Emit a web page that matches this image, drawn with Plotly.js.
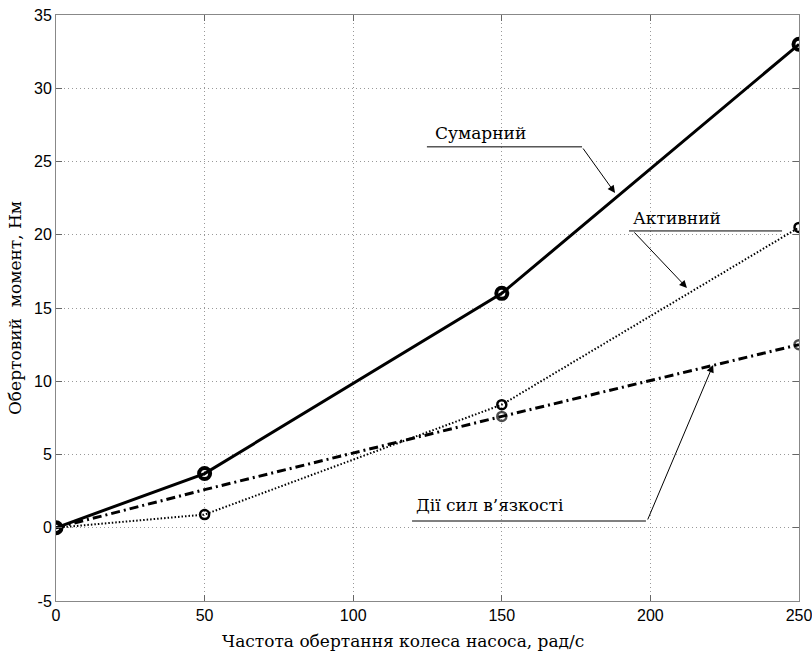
<!DOCTYPE html>
<html>
<head>
<meta charset="utf-8">
<script src="https://cdn.plot.ly/plotly-3.0.1.min.js"></script>
<style>html,body{margin:0;padding:0;background:#fff;}#chart{width:812px;height:653px;}</style>
</head>
<body>
<div id="chart"></div>
<script>
var xVals = [0, 50, 150, 250];
var totalVals = [0, 3.7, 16.0, 33.0];
var activeVals = [0, 0.9, 8.4, 20.5];
var viscousVals = [0, 2.6, 7.6, 12.5];
var viscousMarkerSizes = [9, 0, 9, 9];
var xTicks = [0, 50, 100, 150, 200, 250];
var yTicks = [-5, 0, 5, 10, 15, 20, 25, 30, 35];
var xTitle = 'Частота обертання колеса насоса, рад/с';
var yTitle = 'Обертовий&nbsp;&nbsp;момент, Нм';
var labelTotal = 'Сумарний';
var labelActive = 'Активний';
var labelViscous = 'Дії сил в\u2019язкості';

var serif = 'DejaVu Serif';
var sans = 'Liberation Sans, Arial, sans-serif';

var traces = [
  {x: xVals, y: viscousVals, mode: 'lines+markers',
   line: {color: '#000', width: 3, dash: '9px,4px,2px,4px'},
   marker: {symbol: 'circle-open', size: viscousMarkerSizes, color: '#000', line: {width: 2.5, color: '#000'}}},
  {x: xVals, y: activeVals, mode: 'lines+markers',
   line: {color: '#000', width: 2, dash: '1.5px,2px'},
   marker: {symbol: 'circle-open', size: 9, color: '#000', line: {width: 2.5, color: '#000'}}},
  {x: xVals, y: totalVals, mode: 'lines+markers',
   line: {color: '#000', width: 3},
   marker: {symbol: 'circle-open', size: 11, color: '#000', line: {width: 4, color: '#000'}}}
];

var axisCommon = {
  showline: true, linecolor: '#888', linewidth: 1, mirror: 'ticks',
  ticks: 'inside', ticklen: 6, tickcolor: '#666', tickwidth: 1,
  showgrid: true, gridcolor: '#999', griddash: '1px,3px', gridwidth: 1,
  zeroline: false, tickfont: {family: sans, size: 16, color: '#000'},
  ticklabeloverflow: 'allow'
};

var layout = {
  width: 812, height: 653,
  margin: {l: 56, r: 13, t: 15, b: 52},
  paper_bgcolor: '#fff', plot_bgcolor: '#fff',
  showlegend: false,
  xaxis: Object.assign({}, axisCommon, {
    range: [0, 250], tickmode: 'array', tickvals: xTicks, ticktext: xTicks.map(String)
  }),
  yaxis: Object.assign({}, axisCommon, {
    range: [-5, 35], tickmode: 'array', tickvals: yTicks, ticktext: yTicks.map(String),
    title: {text: yTitle, font: {family: serif, size: 17, color: '#000'}, standoff: 8}
  }),
  shapes: [
    {type: 'line', xref: 'x', yref: 'y', x0: 124.8, x1: 177.0, y0: 26.0, y1: 26.0, line: {color: '#000', width: 1}},
    {type: 'line', xref: 'x', yref: 'y', x0: 192.8, x1: 244.3, y0: 20.26, y1: 20.26, line: {color: '#000', width: 1}},
    {type: 'line', xref: 'x', yref: 'y', x0: 119.8, x1: 198.5, y0: 0.46, y1: 0.46, line: {color: '#000', width: 1}}
  ],
  annotations: [
    {x: 403, y: 653, xref: 'paper', yref: 'paper', xanchor: 'center', yanchor: 'bottom', text: xTitle, showarrow: false, font: {family: serif, size: 17, color: '#000'}},
    {x: 142.7, y: 26.95, xref: 'x', yref: 'y', text: labelTotal, showarrow: false, font: {family: serif, size: 17, color: '#000'}},
    {x: 208.9, y: 21.14, xref: 'x', yref: 'y', text: labelActive, showarrow: false, font: {family: serif, size: 17, color: '#000'}},
    {x: 146.0, y: 1.55, xref: 'x', yref: 'y', text: labelViscous, showarrow: false, font: {family: serif, size: 17, color: '#000'}},
    {x: 188.1, y: 22.85, xref: 'x', yref: 'y', text: '', showarrow: true, ax: -33, ay: -46, arrowhead: 2, arrowsize: 1.5, arrowwidth: 1, arrowcolor: '#000', standoff: 0, startstandoff: 0},
    {x: 212.3, y: 16.37, xref: 'x', yref: 'y', text: '', showarrow: true, ax: -54, ay: -57, arrowhead: 2, arrowsize: 1.5, arrowwidth: 1, arrowcolor: '#000', standoff: 0, startstandoff: 0},
    {x: 221.1, y: 11.11, xref: 'x', yref: 'y', text: '', showarrow: true, ax: -66, ay: 156, arrowhead: 2, arrowsize: 1.5, arrowwidth: 1, arrowcolor: '#000', standoff: 0, startstandoff: 0}
  ]
};
// convert the x-title pixel placement to paper fractions
var plotW = 812 - 56 - 13, plotH = 653 - 15 - 52;
layout.annotations[0].x = (layout.annotations[0].x - 56) / plotW;
layout.annotations[0].y = (601 - layout.annotations[0].y) / plotH;

Plotly.newPlot('chart', traces, layout, {displayModeBar: false, staticPlot: true});
</script>
</body>
</html>
